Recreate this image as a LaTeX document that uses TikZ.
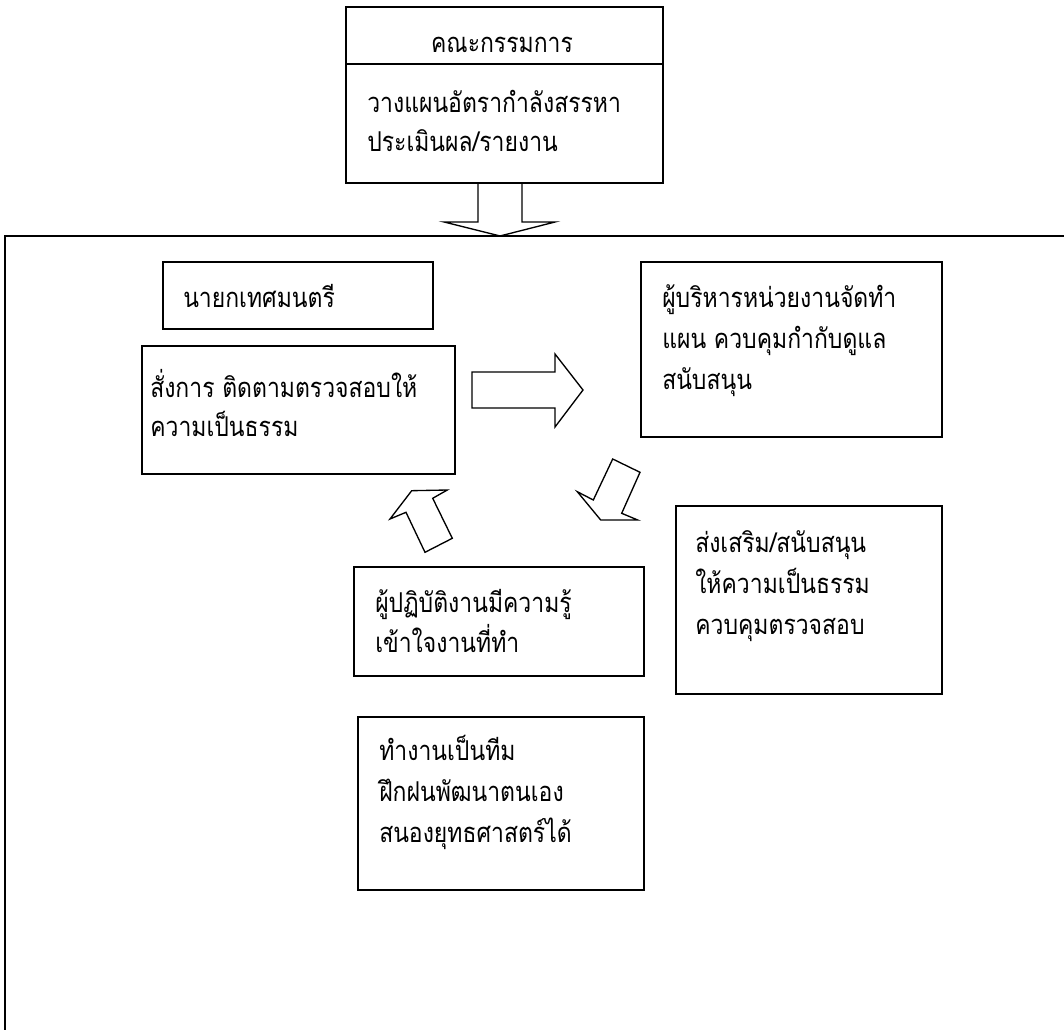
\documentclass[tikz,border=0pt]{standalone}
\usepackage{fontspec}
\newfontfamily\thaifont[Script=Thai, FakeStretch=0.84]{Loma}
\usetikzlibrary{fit}
\begin{document}
\begin{tikzpicture}[x=0.75pt, y=-0.75pt,
  box/.style={draw, line width=1.2pt, inner sep=0pt},
  boldbox/.style={box, line width=2.1pt},
  txt/.style={anchor=base west, inner sep=0pt, font=\thaifont\fontsize{20.5}{24}\selectfont},
  blockarrow/.style={draw, line width=1pt, line join=miter}]
\useasboundingbox (0,0) rectangle (1064,1030);

\node [box, fit={(346,7) (663,64)}] (boardhead) {};
\node [box, fit={(346,64) (663,183)}] (board) {};
\node [txt, anchor=base] (boardname) at (502,53) {คณะกรรมการ};
\foreach \t [count=\i from 0] in {วางแผนอัตรากำลังสรรหา, ประเมินผล/รายงาน}
  \node [txt] (board\i) at (367,113+39*\i) {\t};

\draw [blockarrow] (478,183) -- (478,222) -- (444,222) -- (500,236) -- (555,222) -- (522,222) -- (522,183);

\draw [line width=1.5pt] (1064,236) -- (5,236) -- (5,1030);

\node [boldbox, fit={(163,262) (433,329)}] (mayor) {};
\node [txt] (mayor0) at (183,308) {นายกเทศมนตรี};

\node [box, fit={(142,346) (455,474)}] (order) {};
\foreach \t [count=\i from 0] in {สั่งการ ติดตามตรวจสอบให้, ความเป็นธรรม}
  \node [txt] (order\i) at (150,398+39*\i) {\t};

\draw [blockarrow] (472,372) -- (555,372) -- (555,354) -- (583,390) -- (555,427) -- (555,408) -- (472,408) -- cycle;

\node [boldbox, fit={(641,262) (942,437)}] (mgr) {};
\foreach \t [count=\i from 0] in {ผู้บริหารหน่วยงานจัดทำ, แผน ควบคุมกำกับดูแล, สนับสนุน}
  \node [txt] (mgr\i) at (662,308+41*\i) {\t};

\draw [blockarrow] (612.7,459) -- (640,472.3) -- (621.7,513.3) -- (637.7,520) -- (600.7,520) -- (577.3,491.7) -- (593.3,500) -- cycle;

\node [box, fit={(676,506) (942,694)}] (promo) {};
\foreach \t [count=\i from 0] in {ส่งเสริม/สนับสนุน, ให้ความเป็นธรรม, ควบคุมตรวจสอบ}
  \node [txt] (promo\i) at (695,552+41*\i) {\t};

\draw [blockarrow] (411.7,490.7) -- (447.3,490) -- (432.7,498.3) -- (452.3,538.3) -- (425,552.3) -- (406,512.3) -- (390,519) -- cycle;

\node [boldbox, fit={(354,567) (644,676)}] (staff) {};
\foreach \t [count=\i from 0] in {ผู้ปฏิบัติงานมีความรู้, เข้าใจงานที่ทำ}
  \node [txt] (staff\i) at (375,612+40*\i) {\t};

\node [box, fit={(358,717) (644,890)}] (team) {};
\foreach \t [count=\i from 0] in {ทำงานเป็นทีม, ฝึกฝนพัฒนาตนเอง, สนองยุทธศาสตร์ได้}
  \node [txt] (team\i) at (379,760+41*\i) {\t};
\end{tikzpicture}
\end{document}
